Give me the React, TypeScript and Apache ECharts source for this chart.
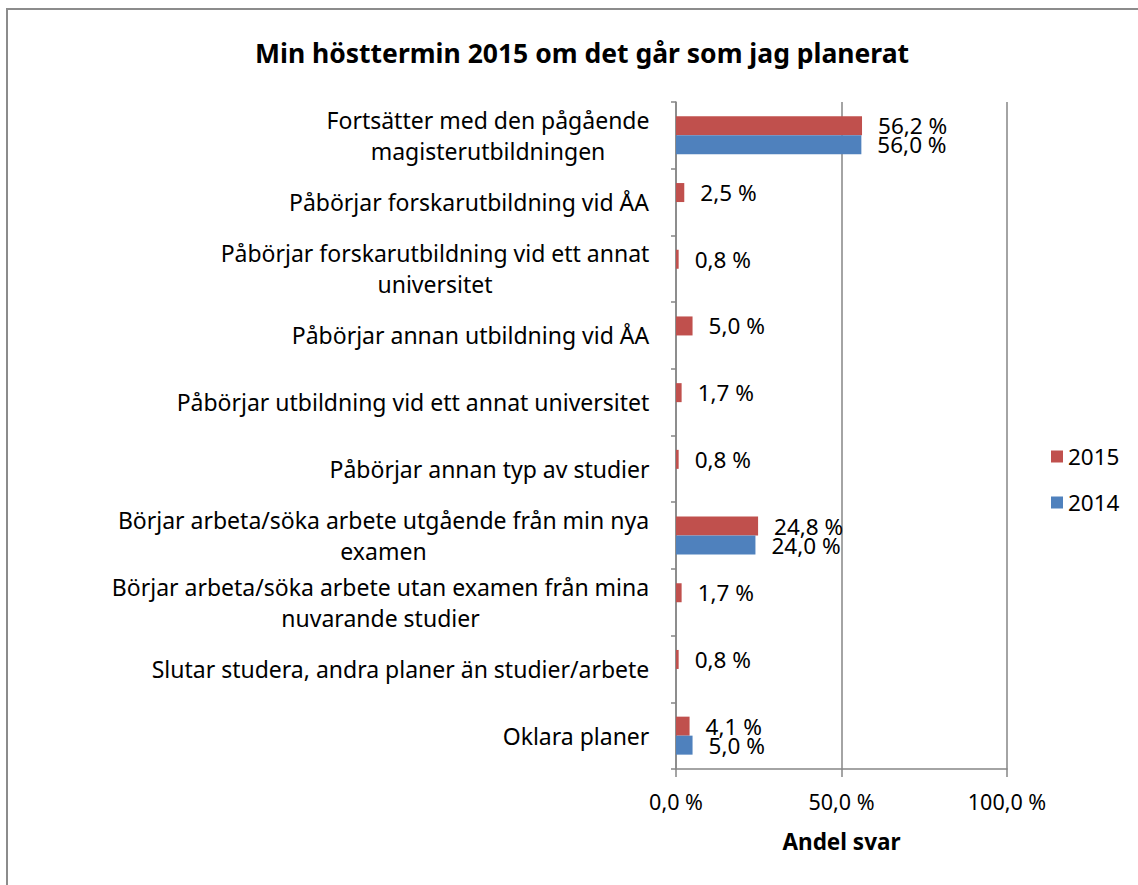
import React, { useEffect, useRef } from "react";
import * as echarts from "echarts";

const titleText = "Min hösttermin 2015 om det går som jag planerat";
const categories = [
  "Fortsätter med den pågående\nmagisterutbildningen",
  "Påbörjar forskarutbildning vid ÅA",
  "Påbörjar forskarutbildning vid ett annat\nuniversitet",
  "Påbörjar annan utbildning vid ÅA",
  "Påbörjar utbildning vid ett annat universitet",
  "Påbörjar annan typ av studier",
  "Börjar arbeta/söka arbete utgående från min nya\nexamen",
  "Börjar arbeta/söka arbete utan examen från mina\nnuvarande studier",
  "Slutar studera, andra planer än studier/arbete",
  "Oklara planer",
];
const values2015 = [56.2, 2.5, 0.8, 5.0, 1.7, 0.8, 24.8, 1.7, 0.8, 4.1];
const values2014: (number | null)[] = [56.0, null, null, null, null, null, 24.0, null, null, 5.0];
const seriesNames = ["2015", "2014"];
const xTicks = { min: 0, max: 100, interval: 50 };
const xAxisName = "Andel svar";

const FONT = "'Noto Sans', 'Open Sans', sans-serif";
const LABEL_SIZE = 23;

function fmt(v: number) {
  return v.toFixed(1).replace(".", ",") + " %";
}

export default function App() {
  const ref = useRef<HTMLDivElement>(null);
  useEffect(() => {
    if (!ref.current) return;
    const chart = echarts.init(ref.current, undefined, { renderer: "svg" });

    const canvas = document.createElement("canvas");
    const ctx = canvas.getContext("2d")!;
    ctx.font = `${LABEL_SIZE}px 'Noto Sans'`;
    const rich: Record<string, any> = {};
    categories.forEach((c, i) => {
      const w = Math.max(...c.split("\n").map((l) => ctx.measureText(l).width));
      rich["c" + i] = {
        width: Math.ceil(w) + 1,
        align: "center",
        fontSize: LABEL_SIZE,
        fontFamily: FONT,
        color: "#000",
        lineHeight: 31,
      };
    });

    chart.setOption({
      animation: false,
      backgroundColor: "#fff",
      textStyle: { fontFamily: FONT },
      title: {
        text: titleText,
        left: 577,
        textAlign: "center",
        top: 34,
        textStyle: { fontSize: 26.5, fontWeight: "bold", color: "#000", fontFamily: FONT },
      },
      graphic: [
        {
          type: "rect",
          shape: { x: 7, y: 9, width: 1160, height: 900 },
          style: { fill: "none", stroke: "#8c8c8c", lineWidth: 2 },
          silent: true,
        },
      ],
      legend: {
        orient: "vertical",
        left: 1046,
        top: 440,
        itemWidth: 12,
        itemHeight: 12,
        itemGap: 23,
        icon: "rect",
        textStyle: { fontSize: 22.5, color: "#000", fontFamily: FONT },
        data: seriesNames,
      },
      grid: { left: 676, right: 131, top: 102, bottom: 116, outerBoundsMode: "none" },
      xAxis: {
        type: "value",
        min: xTicks.min,
        max: xTicks.max,
        interval: xTicks.interval,
        axisLine: { show: true, lineStyle: { color: "#868686", width: 1.5 } },
        axisTick: { show: true, length: 8, lineStyle: { color: "#868686", width: 1.5 } },
        splitLine: { show: true, lineStyle: { color: "#868686", width: 1.5 } },
        axisLabel: {
          formatter: (v: number) => fmt(v),
          fontSize: 21.5,
          color: "#000",
          margin: 21,
          fontFamily: FONT,
        },
        name: xAxisName,
        nameLocation: "middle",
        nameGap: 61,
        nameTextStyle: { fontSize: 22.5, fontWeight: "bold", color: "#000", fontFamily: FONT },
      },
      yAxis: {
        type: "category",
        inverse: true,
        data: categories,
        axisLine: { show: true, lineStyle: { color: "#868686", width: 1.5 } },
        axisTick: { show: true, length: 5, lineStyle: { color: "#868686", width: 1.5 } },
        axisLabel: {
          margin: 26,
          formatter: (v: string) => {
            const i = categories.indexOf(v);
            return v
              .split("\n")
              .map((l) => `{c${i}|${l}}`)
              .join("\n");
          },
          rich,
        },
      },
      series: [
        {
          name: seriesNames[0],
          type: "bar",
          data: values2015,
          barWidth: 19,
          barGap: "0%",
          itemStyle: { color: "#C0504D" },
          label: {
            show: true,
            position: "right",
            distance: 16,
            formatter: (p: any) => fmt(p.value),
            fontSize: 22.5,
            color: "#000",
            fontFamily: FONT,
          },
        },
        {
          name: seriesNames[1],
          type: "bar",
          data: values2014,
          barWidth: 19,
          barGap: "0%",
          itemStyle: { color: "#4F81BD" },
          label: {
            show: true,
            position: "right",
            distance: 16,
            formatter: (p: any) => (p.value == null ? "" : fmt(p.value)),
            fontSize: 22.5,
            color: "#000",
            fontFamily: FONT,
          },
        },
      ],
    });
    return () => chart.dispose();
  }, []);
  return (
    <div
      ref={ref}
      style={{ position: "fixed", left: 0, top: 0, width: 1138, height: 885, background: "#fff" }}
    />
  );
}
